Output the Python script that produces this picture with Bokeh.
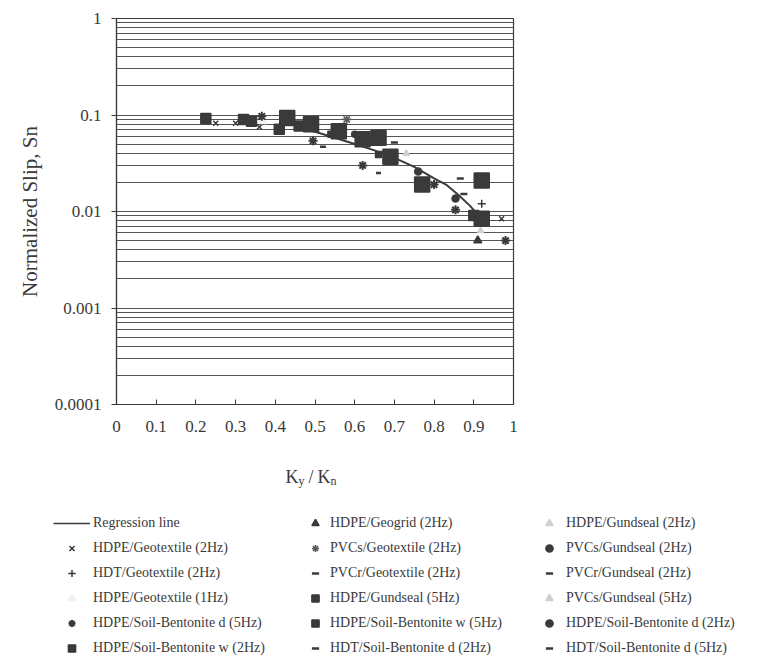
from bokeh.plotting import figure
from bokeh.layouts import column, row
from bokeh.models import (Range1d, FixedTicker, CustomJSTickFormatter, Legend,
                          LegendItem, Label)
from bokeh.embed import file_html
from bokeh.resources import INLINE

# ---------------- data ----------------
reg_x = [0.45, 0.50, 0.55, 0.60, 0.65, 0.70, 0.75, 0.80, 0.83, 0.86, 0.89, 0.91]
reg_y = [0.076, 0.067, 0.058, 0.050, 0.043, 0.036, 0.029, 0.022, 0.019, 0.015, 0.0115, 0.0093]

hdpe_geotex_2_x = [0.25, 0.30, 0.36, 0.97]
hdpe_geotex_2_y = [0.082, 0.082, 0.075, 0.0084]
hdt_geotex_2_x = [0.92]
hdt_geotex_2_y = [0.012]
hdpe_geotex_1_x = [0.37]
hdpe_geotex_1_y = [0.085]
hdpe_sb_d5_x = [0.366, 0.495, 0.62, 0.80, 0.854, 0.98]
hdpe_sb_d5_y = [0.097, 0.054, 0.030, 0.019, 0.0104, 0.005]
hdpe_sb_w2_x = [0.225, 0.32, 0.34, 0.41, 0.46, 0.90]
hdpe_sb_w2_y = [0.092, 0.090, 0.086, 0.071, 0.077, 0.0091]
hdpe_geogrid_x = [0.91]
hdpe_geogrid_y = [0.005]
pvcs_geotex_x = [0.58]
pvcs_geotex_y = [0.090]
pvcr_geotex_x = [0.52]
pvcr_geotex_y = [0.047]
hdpe_gund5_x = [0.54, 0.66]
hdpe_gund5_y = [0.063, 0.039]
hdpe_sb_w5_x = [0.43, 0.49, 0.56, 0.62, 0.66, 0.69, 0.77, 0.92, 0.92]
hdpe_sb_w5_y = [0.093, 0.080, 0.068, 0.056, 0.058, 0.037, 0.019, 0.021, 0.0084]
hdt_sb_d2_x = [0.66]
hdt_sb_d2_y = [0.025]
hdpe_gund2_x = [0.73]
hdpe_gund2_y = [0.040]
pvcs_gund2_x = [0.76, 0.854]
pvcs_gund2_y = [0.026, 0.0136]
pvcr_gund2_x = [0.70, 0.866]
pvcr_gund2_y = [0.052, 0.022]
pvcs_gund5_x = [0.917]
pvcs_gund5_y = [0.0063]
hdpe_sb_d2_x = [0.60]
hdpe_sb_d2_y = [0.063]
hdt_sb_d5_x = [0.875]
hdt_sb_d5_y = [0.0152]

x_ticks = [0, 0.1, 0.2, 0.3, 0.4, 0.5, 0.6, 0.7, 0.8, 0.9, 1]
y_ticks = [0.0001, 0.001, 0.01, 0.1, 1]

INK = "#3a3a3a"
LIGHT = "#cfcfcf"
FONT = "Liberation Serif"
NAN = float("nan")

TOTAL_W = 756
TOP_H = 440
BOT_H = 218

p = figure(output_backend="svg", toolbar_location=None, y_axis_type="log",
           frame_width=397, frame_height=386,
           min_border_left=116, min_border_right=TOTAL_W - 116 - 397,
           min_border_top=18, min_border_bottom=TOP_H - 18 - 386,
           x_range=Range1d(0, 1), y_range=Range1d(0.0001, 1))
p.background_fill_color = "white"
p.border_fill_color = "white"
p.outline_line_color = INK
p.outline_line_width = 1.2

minor = [m * 10.0 ** e for e in range(-4, 0) for m in range(2, 10)]
p.yaxis.ticker = FixedTicker(ticks=y_ticks, minor_ticks=minor)
p.xaxis.ticker = FixedTicker(ticks=x_ticks)
p.xgrid.grid_line_color = None
p.ygrid.grid_line_color = "#555555"
p.ygrid.grid_line_width = 1
p.ygrid.minor_grid_line_color = "#555555"
p.ygrid.minor_grid_line_width = 1

p.yaxis.formatter = CustomJSTickFormatter(code="return String(Number(tick.toPrecision(6)));")
p.xaxis.formatter = CustomJSTickFormatter(code="return String(Number(tick.toPrecision(6)));")

for ax in (p.xaxis[0], p.yaxis[0]):
    ax.axis_line_color = INK
    ax.axis_line_width = 1.2
    ax.major_tick_line_color = INK
    ax.minor_tick_line_color = None
    ax.major_label_text_font = FONT
    ax.major_label_text_color = INK
    ax.major_label_text_font_size = "17px"

p.yaxis.major_tick_out = 5
p.yaxis.major_tick_in = 0
p.yaxis.major_label_standoff = 10
p.yaxis.axis_label = "Normalized Slip, Sn"
p.yaxis.axis_label_text_font = FONT
p.yaxis.axis_label_text_font_style = "normal"
p.yaxis.axis_label_text_font_size = "21px"
p.yaxis.axis_label_text_color = INK
p.yaxis.axis_label_standoff = 10

p.xaxis.major_tick_in = 5
p.xaxis.major_tick_out = 0
p.xaxis.major_label_standoff = 16

# legend / title panel below the chart
q = figure(output_backend="svg", toolbar_location=None,
           frame_width=TOTAL_W, frame_height=BOT_H,
           min_border_left=0, min_border_right=0,
           min_border_top=0, min_border_bottom=0,
           x_range=Range1d(0, TOTAL_W), y_range=Range1d(TOP_H + BOT_H, TOP_H),
           x_axis_location=None, y_axis_location=None)
q.outline_line_color = None
q.grid.grid_line_color = None
q.background_fill_color = "white"
q.border_fill_color = "white"

styles = {}

def series(key, x, y, marker, size, leg_size, color=INK, lw=1.5):
    kw = dict(marker=marker, line_color=color, fill_color=color, line_width=lw)
    r = p.scatter(x, y, size=size, **kw)
    styles[key] = q.scatter([NAN], [NAN], size=leg_size, **kw)
    return r

r_reg = p.line(reg_x, reg_y, line_color=INK, line_width=2)
styles["reg"] = q.line([NAN, NAN], [NAN, NAN], line_color=INK, line_width=1.5)

series("a1", hdpe_geotex_2_x, hdpe_geotex_2_y, "x", 7, 6)
series("a2", hdt_geotex_2_x, hdt_geotex_2_y, "cross", 8, 7)
series("a3", hdpe_geotex_1_x, hdpe_geotex_1_y, "triangle", 6, 6, color="#f2f2f2")
series("a4", hdpe_sb_d5_x, hdpe_sb_d5_y, "asterisk", 9, 7, lw=2.0)
series("a5", hdpe_sb_w2_x, hdpe_sb_w2_y, "square", 10, 8)
series("b1", hdpe_geogrid_x, hdpe_geogrid_y, "triangle", 8, 7)
series("b2", pvcs_geotex_x, pvcs_geotex_y, "asterisk", 9, 7, color="#5a5a5a", lw=1.6)
series("b3", pvcr_geotex_x, pvcr_geotex_y, "dash", 6, 5, lw=2.5)
series("b4", hdpe_gund5_x, hdpe_gund5_y, "square", 6, 6)
series("b5", hdpe_sb_w5_x, hdpe_sb_w5_y, "square", 15, 9)
series("b6", hdt_sb_d2_x, hdt_sb_d2_y, "dash", 5, 4, lw=2.5)
series("c1", hdpe_gund2_x, hdpe_gund2_y, "triangle", 6, 6, color=LIGHT)
series("c2", pvcs_gund2_x, pvcs_gund2_y, "circle", 7, 6)
series("c3", pvcr_gund2_x, pvcr_gund2_y, "dash", 7, 7, lw=2.5)
series("c4", pvcs_gund5_x, pvcs_gund5_y, "triangle", 6, 6, color=LIGHT)
series("c5", hdpe_sb_d2_x, hdpe_sb_d2_y, "circle", 6, 5)
series("c6", hdt_sb_d5_x, hdt_sb_d5_y, "dash", 7, 7, lw=2.5)

cols = [
    [("Regression line", "reg"), ("HDPE/Geotextile (2Hz)", "a1"),
     ("HDT/Geotextile (2Hz)", "a2"), ("HDPE/Geotextile (1Hz)", "a3"),
     ("HDPE/Soil-Bentonite d (5Hz)", "a4"), ("HDPE/Soil-Bentonite w (2Hz)", "a5")],
    [("HDPE/Geogrid (2Hz)", "b1"), ("PVCs/Geotextile (2Hz)", "b2"),
     ("PVCr/Geotextile (2Hz)", "b3"), ("HDPE/Gundseal (5Hz)", "b4"),
     ("HDPE/Soil-Bentonite w (5Hz)", "b5"), ("HDT/Soil-Bentonite d (2Hz)", "b6")],
    [("HDPE/Gundseal (2Hz)", "c1"), ("PVCs/Gundseal (2Hz)", "c2"),
     ("PVCr/Gundseal (2Hz)", "c3"), ("PVCs/Gundseal (5Hz)", "c4"),
     ("HDPE/Soil-Bentonite d (2Hz)", "c5"), ("HDT/Soil-Bentonite d (5Hz)", "c6")],
]
col_x = [53, 305, 539]
col_gw = [37, 20, 20]
col_so = [3, 5, 7]
for items, lx, gw, so in zip(cols, col_x, col_gw, col_so):
    leg = Legend(items=[LegendItem(label=t, renderers=[styles[k]], index=0) for t, k in items],
                 location=(lx, 1), orientation="vertical",
                 border_line_color=None, background_fill_alpha=0,
                 label_text_font=FONT, label_text_font_size="14px",
                 label_text_color=INK, glyph_width=gw, glyph_height=18,
                 label_height=18, spacing=7, padding=0, margin=0,
                 label_standoff=so)
    q.add_layout(leg, "center")

def lab(x, y, t, size):
    q.add_layout(Label(x=x, y=y, text=t, text_font=FONT, text_font_size=size,
                       text_color=INK, text_baseline="alphabetic",
                       text_align="left"))

lab(285, 476, "K", "18px")
lab(298, 480, "y", "12px")
lab(308, 476, "/", "18px")
lab(317, 476, "K", "18px")
lab(330, 480, "n", "12px")

layout = column(row(p), row(q), spacing=0)
open("out.html", "w").write(file_html(layout, INLINE))
